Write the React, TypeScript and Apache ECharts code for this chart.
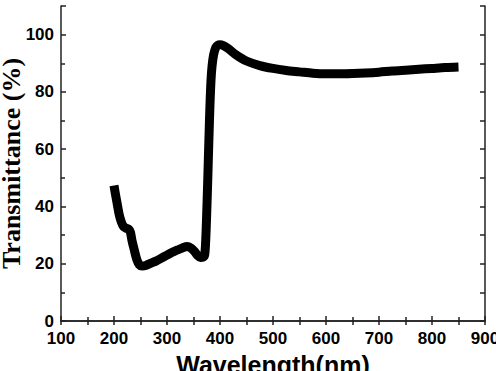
import React, { useEffect, useRef } from "react";
import * as echarts from "echarts";

const wavelengths = [
  200, 203, 206, 210, 214, 218, 222, 228, 231, 234, 238, 243, 248, 253, 260,
  270, 280, 290, 300, 310, 320, 330, 338, 345, 352, 358, 363, 368, 371, 373,
  375, 377, 379, 381, 383, 385, 388, 392, 396, 400, 405, 415, 430, 450, 475,
  500, 525, 550, 575, 600, 625, 650, 675, 700, 725, 750, 775, 800, 825, 850,
];
const transmittance = [
  47.3, 44, 41, 37, 34.5, 33, 32.5, 32, 31, 28, 25, 21.5, 19.6, 19.2, 19.4,
  20.2, 21, 22, 23, 24, 24.8, 25.6, 26, 25.5, 24.3, 22.8, 22.2, 22.3, 23, 28,
  38, 50, 63, 75, 84, 89, 93, 95.5, 96.3, 96.5, 96.3, 95.2, 93, 90.8, 89.2,
  88.2, 87.5, 87, 86.5, 86.3, 86.3, 86.4, 86.6, 86.9, 87.3, 87.6, 87.9, 88.2,
  88.5, 88.7,
];
const xTicks = { min: 100, max: 900, interval: 100 };
const yTicks = { min: 0, max: 110, interval: 20 };

export default function App() {
  const ref = useRef<HTMLDivElement>(null);
  useEffect(() => {
    document.body.style.margin = "0";
    const chart = echarts.init(ref.current!, null, { renderer: "svg" });
    const axisColor = "#222";
    const labelFont = {
      fontFamily: "Liberation Sans",
      fontWeight: "bold" as const,
      fontSize: 17,
      color: "#000",
    };
    chart.setOption({
      animation: false,
      backgroundColor: "#fff",
      grid: {
        left: 61,
        right: 11,
        top: 6,
        bottom: 50,
        containLabel: false,
        outerBoundsMode: "none",
      },
      xAxis: [
        {
          type: "value",
          min: xTicks.min,
          max: xTicks.max,
          interval: xTicks.interval,
          position: "bottom",
          name: "Wavelength(nm)",
          nameLocation: "middle",
          nameGap: 31,
          nameMoveOverlap: false,
          nameTextStyle: {
            fontFamily: "Liberation Sans",
            fontWeight: "bold",
            fontSize: 25,
            color: "#000",
          },
          axisLine: { lineStyle: { color: axisColor, width: 1.5 } },
          axisTick: { inside: true, length: 5, lineStyle: { color: axisColor, width: 1.5 } },
          minorTick: { show: true, splitNumber: 2, length: 4, lineStyle: { color: axisColor, width: 1.5 } },
          axisLabel: { ...labelFont, margin: 9 },
          splitLine: { show: false },
        },
        {
          type: "value",
          min: xTicks.min,
          max: xTicks.max,
          interval: 50,
          position: "top",
          axisLine: { lineStyle: { color: axisColor, width: 1.5 } },
          axisTick: { inside: true, length: 4, lineStyle: { color: axisColor, width: 1.5 } },
          axisLabel: { show: false },
          splitLine: { show: false },
        },
      ],
      yAxis: [
        {
          type: "value",
          min: yTicks.min,
          max: yTicks.max,
          interval: yTicks.interval,
          position: "left",
          name: "Transmittance (%)",
          nameLocation: "middle",
          nameGap: 37,
          nameMoveOverlap: false,
          nameTextStyle: {
            fontFamily: "Liberation Serif",
            fontWeight: "bold",
            fontSize: 26,
            color: "#000",
          },
          axisLine: { show: true, lineStyle: { color: axisColor, width: 1.5 } },
          axisTick: { show: true, inside: true, length: 5, lineStyle: { color: axisColor, width: 1.5 } },
          minorTick: { show: true, splitNumber: 2, length: 4, lineStyle: { color: axisColor, width: 1.5 } },
          axisLabel: { ...labelFont, margin: 7, showMaxLabel: false },
          splitLine: { show: false },
        },
        {
          type: "value",
          min: yTicks.min,
          max: yTicks.max,
          interval: 10,
          position: "right",
          axisLine: { show: true, lineStyle: { color: axisColor, width: 1.5 } },
          axisTick: { show: true, inside: true, length: 5, lineStyle: { color: axisColor, width: 1.5 } },
          axisLabel: { show: false },
          splitLine: { show: false },
        },
      ],
      series: [
        {
          type: "line",
          data: wavelengths.map((w, i) => [w, transmittance[i]]),
          xAxisIndex: 0,
          yAxisIndex: 0,
          showSymbol: false,
          smooth: 0.3,
          lineStyle: { color: "#000", width: 9, join: "round", cap: "butt" },
        },
      ],
    });
    return () => chart.dispose();
  }, []);
  return <div ref={ref} style={{ width: 496, height: 371 }} />;
}
